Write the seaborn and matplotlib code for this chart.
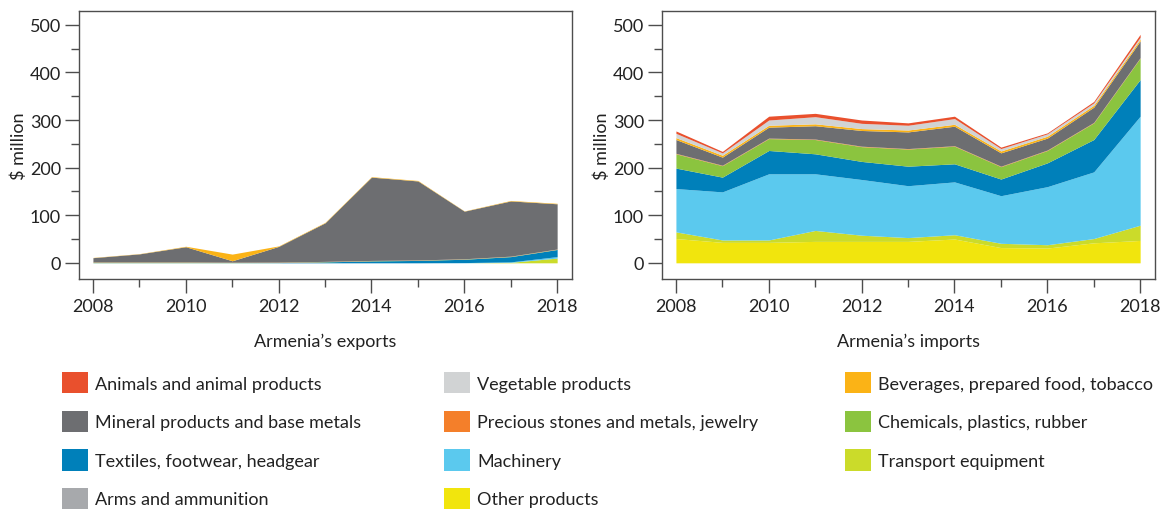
import matplotlib
matplotlib.use("Agg")
import matplotlib.pyplot as plt
from matplotlib.patches import Patch
from matplotlib.ticker import MultipleLocator
import seaborn as sns

years = list(range(2008, 2019))

categories = [
    "Animals and animal products", "Vegetable products", "Beverages, prepared food, tobacco",
    "Mineral products and base metals", "Precious stones and metals, jewelry", "Chemicals, plastics, rubber",
    "Textiles, footwear, headgear", "Machinery", "Transport equipment",
    "Arms and ammunition", "Other products",
]
colors = ["#E9502D", "#D1D3D4", "#FBB316", "#6D6E71", "#F47F2A", "#8BC43F",
          "#0080BA", "#5BC9EE", "#CBDB2A", "#A7A9AC", "#F1E50D"]

# exports ($ million), one list per category
exp_animals = [0, 0, 0, 0, 0, 0, 0, 0, 0, 0, 0]
exp_vegetable = [0, 0, 0, 0, 0, 0, 0, 0, 0, 0, 0]
exp_beverages = [0.5, 0.5, 1, 14, 1, 1, 1, 1, 0.5, 1, 1]
exp_mineral = [9, 17, 32, 3, 33, 81, 175, 166, 100, 116, 95]
exp_precious = [0.5, 0.5, 0.5, 0.5, 0.5, 0.5, 0.5, 0.5, 0.5, 0.5, 0.5]
exp_chemicals = [1, 1, 1, 0.5, 0.5, 0.5, 0.5, 0.5, 0.5, 0.5, 0.5]
exp_textiles = [0.3, 0.3, 0.3, 0.3, 0.5, 2, 4, 5, 7, 11, 15]
exp_machinery = [0, 0, 0, 0, 0, 0, 0, 0, 0.5, 1, 3]
exp_transport = [0, 0, 0, 0, 0, 0, 0, 0, 0, 1, 10]
exp_arms = [0, 0, 0, 0, 0, 0, 0, 0, 0, 0, 0]
exp_other = [0, 0, 0, 0, 0, 0, 0, 0, 0, 0, 0]

# imports ($ million)
imp_animals = [5, 3, 8, 7, 7, 5, 5, 3, 2, 3, 6]
imp_vegetable = [9, 5, 11, 15, 11, 10, 12, 5, 5, 5, 4]
imp_beverages = [4, 4, 4, 4, 4, 4, 4, 4, 4, 4, 4]
imp_mineral = [29, 17, 23, 28, 33, 35, 41, 28, 25, 32, 35]
imp_precious = [1, 1, 1, 1, 1, 1, 1, 1, 1, 1, 1]
imp_chemicals = [30, 24, 25, 30, 31, 36, 37, 26, 26, 35, 45]
imp_textiles = [43, 31, 49, 42, 38, 41, 38, 35, 50, 68, 77]
imp_machinery = [91, 101, 139, 119, 117, 109, 111, 100, 122, 140, 229]
imp_transport = [14, 5, 5, 23, 13, 8, 9, 9, 7, 9, 32]
imp_arms = [0, 0, 0, 0, 0, 0, 0, 0, 0, 0, 0]
imp_other = [51, 43, 43, 45, 45, 45, 50, 32, 31, 42, 47]

exports = [exp_animals, exp_vegetable, exp_beverages, exp_mineral, exp_precious, exp_chemicals,
           exp_textiles, exp_machinery, exp_transport, exp_arms, exp_other]
imports = [imp_animals, imp_vegetable, imp_beverages, imp_mineral, imp_precious, imp_chemicals,
           imp_textiles, imp_machinery, imp_transport, imp_arms, imp_other]

sns.set_theme(style="ticks")
plt.rcParams["font.family"] = ["Lato", "DejaVu Sans"]
edge = "#4D4D4D"
fs = 13

fig = plt.figure(figsize=(11.63, 5.10), dpi=100)
ax1 = fig.add_axes([79 / 1163, 1 - 280 / 510, 493 / 1163, 268 / 510])
ax2 = fig.add_axes([662 / 1163, 1 - 280 / 510, 493 / 1163, 268 / 510])

for ax, data, title in [(ax1, exports, "Armenia\u2019s exports"), (ax2, imports, "Armenia\u2019s imports")]:
    # stack from the bottom: legend order reversed
    ax.stackplot(years, *data[::-1], colors=colors[::-1], linewidth=0)
    ax.set_xlim(2007.7, 2018.32)
    ax.set_ylim(-34, 529)
    ax.xaxis.set_major_locator(MultipleLocator(2))
    ax.xaxis.set_minor_locator(MultipleLocator(1))
    ax.yaxis.set_major_locator(MultipleLocator(100))
    ax.yaxis.set_minor_locator(MultipleLocator(50))
    ax.tick_params(which="major", length=10, width=1.0, color=edge, labelsize=fs,
                   labelcolor="#222222")
    ax.tick_params(axis="x", which="major", pad=4)
    ax.tick_params(axis="y", which="major", pad=3)
    ax.tick_params(which="minor", length=6, width=1.0, color=edge)
    for s in ax.spines.values():
        s.set_color(edge)
        s.set_linewidth(1.0)
    ax.set_ylabel("$ million", fontsize=fs, color="#222222", labelpad=2)
    ax.set_xlabel(title, fontsize=fs, color="#222222", labelpad=13)
    ax.set_facecolor("white")

handles = [Patch(facecolor=c, edgecolor="none") for c in colors]
cols = [(62, [0, 3, 6, 9]), (444, [1, 4, 7, 10]), (845, [2, 5, 8])]
for x, idx in cols:
    fig.legend([handles[i] for i in idx], [categories[i] for i in idx],
               loc="upper left", bbox_to_anchor=(x / 1163, 1 - 373 / 510),
               frameon=False, fontsize=fs, handlelength=1.45, handleheight=1.45,
               handletextpad=0.4, labelspacing=0.95, borderpad=0, borderaxespad=0,
               labelcolor="#222222")

fig.savefig("out.png", dpi=100)
